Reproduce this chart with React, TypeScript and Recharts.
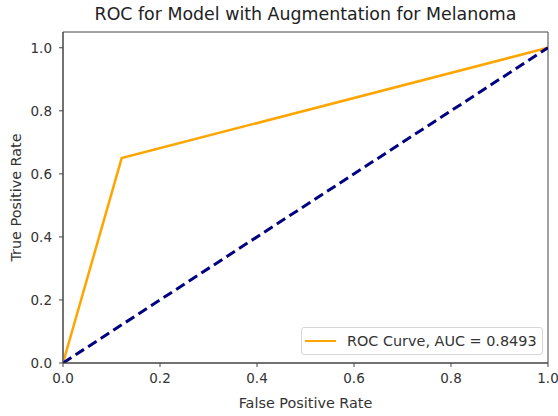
import React from "react";
import { LineChart, Line, XAxis, YAxis, ReferenceArea } from "recharts";

// ROC curve points
const fpr = [0, 0.121, 1];
const tpr = [0, 0.65, 1];
// chance line
const chanceX = [0, 1];
const chanceY = [0, 1];

const ticks = [0, 0.2, 0.4, 0.6, 0.8, 1.0];
const aucLabel = "ROC Curve, AUC = 0.8493";

const rocData = fpr.map((x, i) => ({ x, y: tpr[i] }));
const chanceData = chanceX.map((x, i) => ({ x, y: chanceY[i] }));

const font = "DejaVu Sans, sans-serif";

function RocLegend() {
  return (
    <div
      style={{
        position: "absolute",
        left: 301,
        top: 327,
        width: 242,
        height: 28,
        boxSizing: "border-box",
        display: "flex",
        alignItems: "center",
        border: "1px solid #d6d6d6",
        borderRadius: 3,
        background: "#fff",
        paddingLeft: 3,
        fontFamily: font,
        fontSize: 14.4,
        color: "#333",
      }}
    >
      <div style={{ width: 31, height: 2, background: "#ffa500", marginRight: 11 }} />
      <span>{aucLabel}</span>
    </div>
  );
}

export default function App() {
  return (
    <div style={{ position: "absolute", left: 0, top: 0, width: 558, height: 416, background: "#fff" }}>
      <div
        style={{
          position: "absolute",
          left: 63,
          width: 485,
          top: 4,
          textAlign: "center",
          fontFamily: font,
          fontSize: 17.4,
          color: "#222",
        }}
      >
        ROC for Model with Augmentation for Melanoma
      </div>
      <LineChart
        width={558}
        height={416}
        margin={{ top: 32, right: 10, left: 8, bottom: 0 }}
      >
        <XAxis
          type="number"
          dataKey="x"
          domain={[0, 1]}
          ticks={ticks}
          tickFormatter={(v: number) => v.toFixed(1)}
          allowDataOverflow
          height={53}
          stroke="#444"
          tickSize={4}
          tickMargin={6}
          tick={{ fill: "#333", fontSize: 13.5, fontFamily: font }}
          label={{
            value: "False Positive Rate",
            position: "insideBottom",
            offset: 8,
            fill: "#333",
            fontSize: 14.4,
            fontFamily: font,
          }}
        />
        <YAxis
          type="number"
          dataKey="y"
          domain={[0, 1.05]}
          ticks={ticks}
          tickFormatter={(v: number) => v.toFixed(1)}
          allowDataOverflow
          width={55}
          stroke="#444"
          tickSize={4}
          tickMargin={7}
          tick={{ fill: "#333", fontSize: 13.5, fontFamily: font }}
          label={{
            value: "True Positive Rate",
            angle: -90,
            position: "insideLeft",
            offset: 8,
            style: { textAnchor: "middle" },
            fill: "#333",
            fontSize: 14.4,
            fontFamily: font,
          }}
        />
        <ReferenceArea
          x1={0}
          x2={1}
          y1={0}
          y2={1.05}
          fill="none"
          stroke="#444"
          strokeWidth={1}
        />
        <Line
          data={rocData}
          dataKey="y"
          type="linear"
          stroke="#ffa500"
          strokeWidth={2.5}
          dot={false}
          isAnimationActive={false}
        />
        <Line
          data={chanceData}
          dataKey="y"
          type="linear"
          stroke="#000080"
          strokeWidth={3}
          strokeDasharray="10 5"
          dot={false}
          isAnimationActive={false}
        />
      </LineChart>
      <RocLegend />
    </div>
  );
}
